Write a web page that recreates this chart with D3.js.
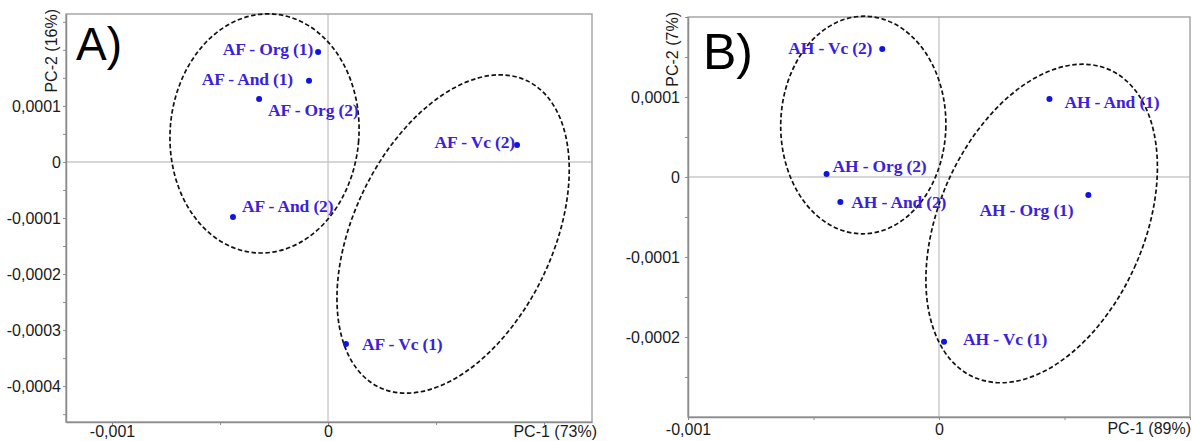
<!DOCTYPE html>
<html>
<head>
<meta charset="utf-8">
<script src="https://cdn.jsdelivr.net/npm/d3@7"></script>
<style>
  html, body { margin: 0; padding: 0; background: #fff; }
  svg { display: block; }
</style>
</head>
<body>
<svg id="chart" width="1192" height="441"></svg>
<script>
// ---------- DATA ----------
// Panel A
const labelsA = ["AF - Org (1)", "AF - And (1)", "AF - Org (2)", "AF - Vc (2)", "AF - And (2)", "AF - Vc (1)"];
const pc1A = [-0.000046, -0.000088, -0.000319, 0.000875, -0.000440, 0.000083];
const pc2A = [0.000196, 0.000145, 0.0001125, 0.0000304, -0.0000982, -0.000325];
const yTicksA = [-0.0004, -0.0003, -0.0002, -0.0001, 0, 0.0001];
const xTicksA = [-0.001, 0];
const xTitleA = "PC-1 (73%)";
const yTitleA = "PC-2 (16%)";
const panelTagA = "A)";
// ellipses: [centre PC-1, centre PC-2, semi-axis PC-1, semi-axis PC-2, tilt deg]
const ellipsesA = [
  [-0.000294, 0.0000509, 0.000437, 0.0002136, 4.4],
  [0.000579, -0.0001286, 0.000460, 0.0003036, 25.8]
];

// Panel B
const labelsB = ["AH - Vc (2)", "AH - And (1)", "AH - Org (2)", "AH - And (2)", "AH - Org (1)", "AH - Vc (1)"];
const pc1B = [-0.000226, 0.000440, -0.000448, -0.000393, 0.000595, 0.000020];
const pc2B = [0.000160, 0.0000975, 0.0000038, -0.0000313, -0.0000225, -0.000206];
const yTicksB = [-0.0003, -0.0002, -0.0001, 0, 0.0001];
const xTicksB = [-0.001, 0];
const xTitleB = "PC-1 (89%)";
const yTitleB = "PC-2 (7%)";
const panelTagB = "B)";
const ellipsesB = [
  [-0.0003016, 0.000065, 0.000329, 0.000136, 1.0],
  [0.000409, -0.0000581, 0.000409, 0.000210, 23.7]
];

// ---------- LAYOUT / STYLE ----------
const panels = [
  {
    labels: labelsA, xs: pc1A, ys: pc2A, yTicks: yTicksA, xTicks: xTicksA,
    xTitle: xTitleA, yTitle: yTitleA, tag: panelTagA, ellipses: ellipsesA,
    xDomain: [-0.001213, 0.001222], yDomain: [-0.000464, 0.000264],
    box: { l: 66, t: 14, r: 592, b: 422 },
    xMinor: [-0.001, -0.0005, 0, 0.0005, 0.001],
    yMinorStep: 0.00005,
    tagPos: [76, 60], tagSize: 46,
    yTitlePos: [57, 9], xTitleEnd: [597, 437], xLabelY: 437, yLabelEnd: 61,
    // label offsets [dx, dy, anchor]
    lab: [[-5, -3, "end"], [-16, -2, "end"], [9, 11, "start"], [-2, -3, "end"], [9, -11, "start"], [16, 0, "start"]]
  },
  {
    labels: labelsB, xs: pc1B, ys: pc2B, yTicks: yTicksB, xTicks: xTicksB,
    xTitle: xTitleB, yTitle: yTitleB, tag: panelTagB, ellipses: ellipsesB,
    xDomain: [-0.001, 0.001], yDomain: [-0.0003, 0.0002],
    box: { l: 688, t: 17, r: 1190, b: 417 },
    xMinor: [-0.001, -0.0005, 0, 0.0005, 0.001],
    yMinorStep: 0.00005,
    tagPos: [703, 69], tagSize: 50,
    yTitlePos: [678, 12], xTitleEnd: [1191, 434], xLabelY: 435, yLabelEnd: 680,
    lab: [[-10, -1, "end"], [15, 3, "start"], [6, -8, "start"], [11, 0, "start"], [-15, 15, "end"], [19, -3, "start"]]
  }
];

const svg = d3.select("#chart");
const fmtLoc = d3.formatLocale({ decimal: ",", thousands: ".", grouping: [3], currency: ["", ""], minus: "-" });
const fmtY = v => (Math.abs(v) < 1e-12 ? "0" : fmtLoc.format(".4f")(v));
const fmtX = v => (Math.abs(v) < 1e-12 ? "0" : fmtLoc.format(".3f")(v));

const axisColor = "#8c8c8c";
const gridColor = "#c9c9c9";
const labelColor = "#3b22d9";
const pointColor = "#0f14e0";

panels.forEach(p => {
  const g = svg.append("g");
  const x = d3.scaleLinear().domain(p.xDomain).range([p.box.l, p.box.r]);
  const y = d3.scaleLinear().domain(p.yDomain).range([p.box.b, p.box.t]);

  // grid lines at zero
  g.append("line")
    .attr("x1", x(0)).attr("x2", x(0)).attr("y1", p.box.t).attr("y2", p.box.b)
    .attr("stroke", gridColor).attr("stroke-width", 1.4);
  g.append("line")
    .attr("x1", p.box.l).attr("x2", p.box.r).attr("y1", y(0)).attr("y2", y(0))
    .attr("stroke", gridColor).attr("stroke-width", 1.4);

  // frame
  g.append("rect")
    .attr("x", p.box.l).attr("y", p.box.t)
    .attr("width", p.box.r - p.box.l).attr("height", p.box.b - p.box.t)
    .attr("fill", "none").attr("stroke", "#a6a6a6").attr("stroke-width", 1.5);

  // y axis (minor ticks + labelled majors)
  const yMinor = d3.range(Math.ceil(p.yDomain[0] / p.yMinorStep), Math.floor(p.yDomain[1] / p.yMinorStep) + 1)
    .map(k => k * p.yMinorStep);
  const yAxis = d3.axisLeft(y).tickValues(yMinor).tickSize(3).tickSizeOuter(0)
    .tickFormat(v => p.yTicks.some(t => Math.abs(t - v) < 1e-10) ? fmtY(v) : "");
  const ya = g.append("g").attr("transform", `translate(${p.box.l},0)`).call(yAxis);
  ya.select(".domain").attr("stroke", axisColor).attr("stroke-width", 1.5);
  ya.selectAll(".tick line").attr("stroke", axisColor);
  ya.selectAll(".tick text")
    .attr("x", p.yLabelEnd - p.box.l).attr("dy", "0.35em")
    .attr("font-family", "Liberation Sans, Arial, sans-serif").attr("font-size", 16).attr("fill", "#1a1a1a");

  // x axis
  const xAxis = d3.axisBottom(x).tickValues(p.xMinor).tickSize(3).tickSizeOuter(0)
    .tickFormat(v => p.xTicks.some(t => Math.abs(t - v) < 1e-10) ? fmtX(v) : "");
  const xa = g.append("g").attr("transform", `translate(0,${p.box.b})`).call(xAxis);
  xa.select(".domain").attr("stroke", axisColor).attr("stroke-width", 1.5);
  xa.selectAll(".tick line").attr("stroke", axisColor);
  xa.selectAll(".tick text")
    .attr("y", p.xLabelY - p.box.b).attr("dy", 0)
    .attr("font-family", "Liberation Sans, Arial, sans-serif").attr("font-size", 16).attr("fill", "#1a1a1a");

  // axis titles
  g.append("text")
    .attr("x", p.xTitleEnd[0]).attr("y", p.xTitleEnd[1])
    .attr("text-anchor", "end")
    .attr("font-family", "Liberation Sans, Arial, sans-serif").attr("font-size", 16).attr("fill", "#1a1a1a")
    .text(p.xTitle);
  g.append("text")
    .attr("transform", `translate(${p.yTitlePos[0]},${p.yTitlePos[1]}) rotate(-90)`)
    .attr("text-anchor", "end")
    .attr("font-family", "Liberation Sans, Arial, sans-serif").attr("font-size", 16).attr("fill", "#1a1a1a")
    .text(p.yTitle);

  // panel tag
  g.append("text")
    .attr("x", p.tagPos[0]).attr("y", p.tagPos[1])
    .attr("font-family", "Liberation Sans, Arial, sans-serif").attr("font-size", p.tagSize).attr("fill", "#000")
    .text(p.tag);

  // ellipses
  p.ellipses.forEach(e => {
    const cx = x(e[0]), cy = y(e[1]);
    const a = Math.abs(x(e[0] + e[2]) - cx);
    const b = Math.abs(y(e[1] + e[3]) - cy);
    g.append("ellipse")
      .attr("cx", cx).attr("cy", cy).attr("rx", a).attr("ry", b)
      .attr("transform", `rotate(${e[4]},${cx},${cy})`)
      .attr("fill", "none").attr("stroke", "#111").attr("stroke-width", 1.7)
      .attr("stroke-dasharray", "4.5,2.5");
  });

  // points
  const idx = d3.range(p.labels.length);
  g.selectAll("circle.pt").data(idx).join("circle")
    .attr("class", "pt")
    .attr("cx", i => x(p.xs[i])).attr("cy", i => y(p.ys[i]))
    .attr("r", 3).attr("fill", pointColor);

  // labels
  g.selectAll("text.lbl").data(idx).join("text")
    .attr("class", "lbl")
    .attr("x", i => x(p.xs[i]) + p.lab[i][0])
    .attr("y", i => y(p.ys[i]) + p.lab[i][1] + 6)
    .attr("text-anchor", i => p.lab[i][2])
    .attr("font-family", "Liberation Serif, Times New Roman, serif")
    .attr("font-weight", "bold").attr("font-size", 17.5)
    .attr("letter-spacing", -0.15)
    .attr("fill", labelColor)
    .text(i => p.labels[i]);
});
</script>
</body>
</html>
